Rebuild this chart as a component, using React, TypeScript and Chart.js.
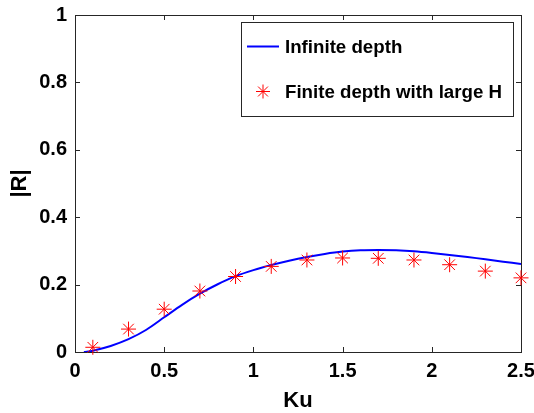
import React, { useEffect, useRef } from "react";
import { Chart, registerables } from "chart.js";

Chart.register(...registerables);

// Continuous curve: infinite depth
const lineKu = [0.05, 0.1, 0.2, 0.3, 0.4, 0.5, 0.6, 0.7, 0.8, 0.9, 1.0, 1.1, 1.2, 1.3, 1.4, 1.5, 1.6, 1.7, 1.8, 1.9, 2.0, 2.1, 2.2, 2.3, 2.4, 2.5];
const lineR = [0.0, 0.004, 0.018, 0.038, 0.066, 0.103, 0.140, 0.173, 0.201, 0.225, 0.243, 0.258, 0.271, 0.282, 0.291, 0.298, 0.302, 0.303, 0.302, 0.299, 0.294, 0.288, 0.282, 0.275, 0.268, 0.261];

// Markers: finite depth with large H
const starKu = [0.1, 0.3, 0.5, 0.7, 0.9, 1.1, 1.3, 1.5, 1.7, 1.9, 2.1, 2.3, 2.5];
const starR = [0.014, 0.068, 0.127, 0.181, 0.224, 0.254, 0.273, 0.279, 0.278, 0.273, 0.259, 0.240, 0.220];

const xTicks = [0, 0.5, 1, 1.5, 2, 2.5];
const yTicks = [0, 0.2, 0.4, 0.6, 0.8, 1];
const seriesLabels = ["Infinite depth", "Finite depth with large H"];
const xTitle = "Ku";
const yTitle = "|R|";

const FONT = '"Liberation Sans", Arial, Helvetica, sans-serif';
const AXIS_COLOR = "#262626";
const LINE_COLOR = "#0000ff";
const STAR_COLOR = "#ff0000";

function drawStar(ctx: CanvasRenderingContext2D, x: number, y: number, r: number) {
  const d = Math.cos(Math.PI / 4) * r;
  ctx.beginPath();
  ctx.moveTo(x - r, y); ctx.lineTo(x + r, y);
  ctx.moveTo(x, y - r); ctx.lineTo(x, y + r);
  ctx.moveTo(x - d, y - d); ctx.lineTo(x + d, y + d);
  ctx.moveTo(x - d, y + d); ctx.lineTo(x + d, y - d);
  ctx.stroke();
}

const boxPlugin = {
  id: "matlabBox",
  beforeDatasetsDraw(chart: any) {
    const { ctx, chartArea: a, scales } = chart;
    ctx.save();
    ctx.strokeStyle = AXIS_COLOR;
    ctx.lineWidth = 1;
    ctx.strokeRect(a.left + 0.5, a.top + 0.5, a.right - a.left, a.bottom - a.top);
    const tl = 5;
    ctx.beginPath();
    for (const t of xTicks) {
      const px = Math.round(scales.x.getPixelForValue(t)) + 0.5;
      ctx.moveTo(px, a.bottom); ctx.lineTo(px, a.bottom - tl);
      ctx.moveTo(px, a.top); ctx.lineTo(px, a.top + tl);
    }
    for (const t of yTicks) {
      const py = Math.round(scales.y.getPixelForValue(t)) + 0.5;
      ctx.moveTo(a.left, py); ctx.lineTo(a.left + tl, py);
      ctx.moveTo(a.right, py); ctx.lineTo(a.right - tl, py);
    }
    ctx.stroke();
    ctx.restore();
  },
  afterDatasetsDraw(chart: any) {
    const { ctx, chartArea: a } = chart;
    const w = 272, h = 94;
    const x0 = a.right - 7.5 - w;
    const y0 = a.top + 7.5;
    ctx.save();
    ctx.fillStyle = "#ffffff";
    ctx.fillRect(x0, y0, w, h);
    ctx.strokeStyle = AXIS_COLOR;
    ctx.lineWidth = 1;
    ctx.strokeRect(x0, y0, w, h);
    const ds = chart.data.datasets;
    const row1 = y0 + 24;
    const row2 = y0 + 69;
    ctx.strokeStyle = LINE_COLOR;
    ctx.lineWidth = 2;
    ctx.beginPath();
    ctx.moveTo(x0 + 5.5, row1); ctx.lineTo(x0 + 37.5, row1);
    ctx.stroke();
    ctx.strokeStyle = STAR_COLOR;
    ctx.lineWidth = 1;
    drawStar(ctx, x0 + 21.5, row2, 7);
    ctx.fillStyle = "#000000";
    ctx.font = `bold 18.7px ${FONT}`;
    ctx.textBaseline = "middle";
    ctx.textAlign = "left";
    ctx.fillText(ds[1].label, x0 + 43.5, row1 + 1);
    ctx.fillText(ds[0].label, x0 + 43.5, row2 + 1);
    ctx.restore();
  },
};

const fmt = (v: any) => String(Math.round(Number(v) * 100) / 100);

export default function App() {
  const ref = useRef<HTMLCanvasElement | null>(null);
  useEffect(() => {
    if (!ref.current) return;
    const chart = new Chart(ref.current, {
      type: "scatter",
      data: {
        datasets: [
          {
            label: seriesLabels[1],
            data: starKu.map((x, i) => ({ x, y: starR[i] })),
            showLine: false,
            pointStyle: "star",
            pointRadius: 7.5,
            pointBorderWidth: 1,
            borderColor: STAR_COLOR,
            backgroundColor: STAR_COLOR,
            clip: false,
            order: 1,
          } as any,
          {
            label: seriesLabels[0],
            data: lineKu.map((x, i) => ({ x, y: lineR[i] })),
            showLine: true,
            borderColor: LINE_COLOR,
            borderWidth: 2,
            pointRadius: 0,
            tension: 0.3,
            order: 2,
          } as any,
        ],
      },
      options: {
        responsive: false,
        animation: false,
        layout: { padding: { top: 15, right: 13, left: 0, bottom: 0 } },
        plugins: { legend: { display: false }, tooltip: { enabled: false } },
        scales: {
          x: {
            type: "linear",
            min: 0,
            max: 2.5,
            afterFit: (s: any) => { s.height = 61; s.paddingLeft = 0; s.paddingRight = 0; },
            afterBuildTicks: (s: any) => { s.ticks = xTicks.map((v) => ({ value: v })); },
            grid: { display: false, drawTicks: false },
            border: { display: false },
            ticks: { color: "#000", padding: 7, callback: fmt, font: { family: FONT, size: 20, weight: "bold" } },
            title: { display: true, text: xTitle, color: "#000", padding: { top: 0, bottom: -1 }, font: { family: FONT, size: 22, weight: "bold" } },
          },
          y: {
            type: "linear",
            min: 0,
            max: 1,
            afterFit: (s: any) => { s.width = 75; s.paddingTop = 0; s.paddingBottom = 0; },
            afterBuildTicks: (s: any) => { s.ticks = yTicks.map((v) => ({ value: v })); },
            grid: { display: false, drawTicks: false },
            border: { display: false },
            ticks: { color: "#000", padding: 8, callback: fmt, font: { family: FONT, size: 20, weight: "bold" } },
            title: { display: true, text: yTitle, color: "#000", padding: { top: 7, bottom: 0 }, font: { family: FONT, size: 22, weight: "bold" } },
          },
        },
      },
      plugins: [boxPlugin],
    } as any);
    return () => chart.destroy();
  }, []);
  return (
    <div style={{ position: "fixed", left: 0, top: 0, width: 534, height: 413, background: "#fff" }}>
      <canvas ref={ref} width={534} height={413} style={{ display: "block" }} />
    </div>
  );
}
